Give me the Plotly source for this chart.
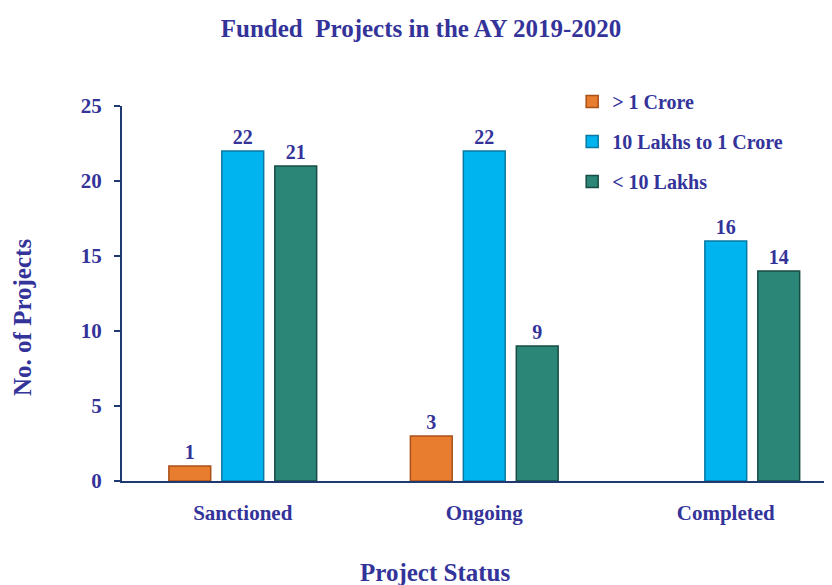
import plotly.graph_objects as go

categories = ["Sanctioned", "Ongoing", "Completed"]
series_names = ["> 1 Crore", "10 Lakhs to 1 Crore", "< 10 Lakhs"]
above_1_crore = [1, 3, None]
lakhs_10_to_1_crore = [22, 22, 16]
below_10_lakhs = [21, 9, 14]

colors = ["#E87D2F", "#00B4F0", "#2B8677"]
edge_colors = ["#A9511A", "#0A78A2", "#174C45"]
text_color = "#33339A"
font_family = "Liberation Serif, Times New Roman, serif"

fig = go.Figure()
for i, (name, vals) in enumerate(zip(series_names, [above_1_crore, lakhs_10_to_1_crore, below_10_lakhs])):
    fig.add_trace(go.Bar(
        x=categories, y=vals, name="<b>" + name + "</b>",
        marker=dict(color=colors[i], line=dict(color=edge_colors[i], width=1.5)),
        text=[("" if v is None else "<b>" + str(v) + "</b>") for v in vals],
        textposition="outside",
        textfont=dict(family=font_family, size=20, color=text_color),
        cliponaxis=False,
        legendgroup=name,
    ))

# plot area in figure coords: x 114..832, y 98..473 (page adds 8px offset)
L, R, T, B = 114, 832, 98, 473
W, H = R - L, B - T

fig.update_layout(
    width=832, height=585,
    paper_bgcolor="white", plot_bgcolor="white",
    margin=dict(l=L, r=832 - R, t=T, b=585 - B),
    barmode="group", bargap=0.342, bargroupgap=0.21,
    font=dict(family=font_family, color=text_color, size=20),
    title=dict(text="<b>Funded  Projects in the AY 2019-2020</b>",
               x=413 / 832, xanchor="center", y=1 - 20 / 585, yanchor="middle",
               font=dict(family=font_family, size=25, color=text_color)),
    legend=dict(x=0.627, y=1.064, xanchor="left", yanchor="top",
                font=dict(family=font_family, size=20, color=text_color),
                traceorder="grouped", tracegroupgap=11,
                itemwidth=30, bgcolor="rgba(0,0,0,0)"),
    showlegend=True,
    annotations=[
        dict(text="<b>No. of Projects</b>", xref="paper", yref="paper",
             x=(14 - L) / W, y=(B - 310) / H, textangle=-90, showarrow=False,
             xanchor="center", yanchor="middle",
             font=dict(family=font_family, size=25, color=text_color)),
        dict(text="<b>Project Status</b>", xref="paper", yref="paper",
             x=(427 - L) / W, y=(B - 564) / H, showarrow=False,
             xanchor="center", yanchor="middle",
             font=dict(family=font_family, size=25, color=text_color)),
    ],
)

fig.update_xaxes(
    range=[-0.5, 2.473], showline=True, linecolor="#1F3A70", linewidth=2,
    ticks="", showgrid=False, zeroline=False, ticklabelstandoff=12,
    tickfont=dict(family=font_family, size=21, color=text_color),
    tickprefix="<b>", ticksuffix="</b>",
)
fig.update_yaxes(
    range=[0, 25], dtick=5, showline=True, linecolor="#1F3A70", linewidth=2,
    ticks="outside", ticklen=6, tickcolor="#1F3A70", tickwidth=2,
    showgrid=False, zeroline=False, ticklabelstandoff=8,
    tickfont=dict(family=font_family, size=21, color=text_color),
    tickprefix="<b>", ticksuffix="</b>",
)

fig.write_html("out.html")
